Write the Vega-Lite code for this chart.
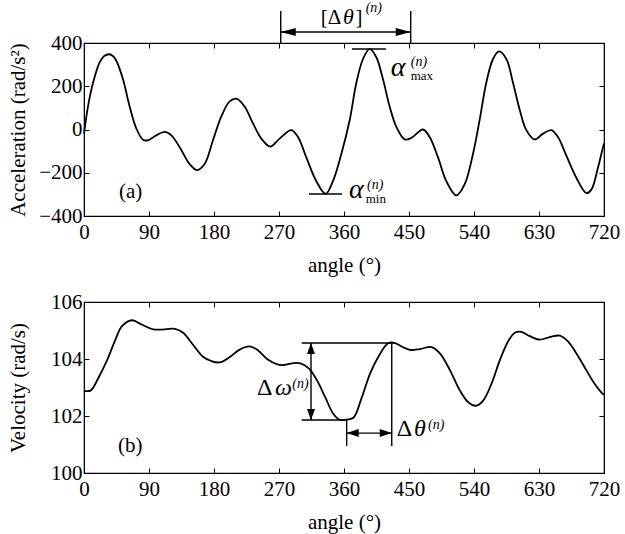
{
  "$schema": "https://vega.github.io/schema/vega-lite/v6.json",
  "padding": {"left": 6, "top": 0, "right": 4, "bottom": 2},
  "spacing": 14,
  "config": {
    "font": "Liberation Serif",
    "view": {"stroke": "black", "strokeWidth": 1.2},
    "axis": {
      "grid": false,
      "labelFont": "Liberation Serif",
      "titleFont": "Liberation Serif",
      "labelFontSize": 21,
      "titleFontSize": 21,
      "titleFontWeight": "normal",
      "labelColor": "black",
      "titleColor": "black",
      "domainColor": "black",
      "tickColor": "black",
      "tickSize": -5,
      "tickWidth": 1,
      "labelFlush": false,
      "labelOverlap": false
    },
    "axisX": {"labelPadding": 10, "titlePadding": 12},
    "axisY": {"labelPadding": 7, "titlePadding": 8, "minExtent": 48, "maxExtent": 48}
  },
  "datasets": {
    "acc": [
      {"angle": 0, "accel": -20}, {"angle": 5.5, "accel": 106}, {"angle": 12.5, "accel": 216},
      {"angle": 21.7, "accel": 310}, {"angle": 28, "accel": 340}, {"angle": 35, "accel": 348},
      {"angle": 40, "accel": 340}, {"angle": 44.8, "accel": 318}, {"angle": 54, "accel": 232},
      {"angle": 63.2, "accel": 106}, {"angle": 72.4, "accel": 5}, {"angle": 81.7, "accel": -47},
      {"angle": 88.6, "accel": -50}, {"angle": 100, "accel": -27}, {"angle": 111.7, "accel": -11},
      {"angle": 121, "accel": -27}, {"angle": 132.5, "accel": -82}, {"angle": 146.3, "accel": -160},
      {"angle": 156.9, "accel": -188}, {"angle": 167, "accel": -160}, {"angle": 178.6, "accel": -50},
      {"angle": 190, "accel": 59}, {"angle": 201.7, "accel": 130}, {"angle": 211.8, "accel": 142},
      {"angle": 222.4, "accel": 106}, {"angle": 234, "accel": 28}, {"angle": 245.5, "accel": -42},
      {"angle": 258, "accel": -79}, {"angle": 270.9, "accel": -42}, {"angle": 287, "accel": -3},
      {"angle": 296.3, "accel": -35}, {"angle": 307.8, "accel": -129}, {"angle": 321.7, "accel": -239},
      {"angle": 334.6, "accel": -298}, {"angle": 344.7, "accel": -239}, {"angle": 356.3, "accel": -113},
      {"angle": 367.9, "accel": 44}, {"angle": 377.1, "accel": 216}, {"angle": 386.3, "accel": 326},
      {"angle": 395.5, "accel": 373}, {"angle": 404.8, "accel": 334}, {"angle": 414, "accel": 232},
      {"angle": 423.2, "accel": 106}, {"angle": 432.5, "accel": 12}, {"angle": 444, "accel": -46},
      {"angle": 453.3, "accel": -39}, {"angle": 469.4, "accel": 0}, {"angle": 478.6, "accel": -35},
      {"angle": 490.2, "accel": -129}, {"angle": 501.7, "accel": -239}, {"angle": 515.5, "accel": -305},
      {"angle": 527, "accel": -254}, {"angle": 538.6, "accel": -113}, {"angle": 547.8, "accel": 44},
      {"angle": 557, "accel": 216}, {"angle": 566.3, "accel": 326}, {"angle": 574.6, "accel": 361},
      {"angle": 584.8, "accel": 326}, {"angle": 594, "accel": 216}, {"angle": 603.3, "accel": 91},
      {"angle": 612.5, "accel": -3}, {"angle": 624, "accel": -46}, {"angle": 635.6, "accel": -19},
      {"angle": 647.1, "accel": -3}, {"angle": 656.3, "accel": -35}, {"angle": 667.9, "accel": -121},
      {"angle": 681.7, "accel": -223}, {"angle": 695.6, "accel": -294}, {"angle": 702.5, "accel": -278},
      {"angle": 711.7, "accel": -176}, {"angle": 718.6, "accel": -82}, {"angle": 720, "accel": -65}
    ],
    "vel": [
      {"angle": 0, "vel": 102.89}, {"angle": 9, "vel": 102.89}, {"angle": 20.6, "vel": 103.37},
      {"angle": 32, "vel": 103.96}, {"angle": 43.5, "vel": 104.68}, {"angle": 52.6, "vel": 105.15},
      {"angle": 66.4, "vel": 105.36}, {"angle": 80, "vel": 105.21}, {"angle": 96, "vel": 105.04},
      {"angle": 112, "vel": 105.04}, {"angle": 125.9, "vel": 105.06}, {"angle": 137.3, "vel": 104.92},
      {"angle": 151, "vel": 104.5}, {"angle": 164.8, "vel": 104.08}, {"angle": 176.2, "vel": 103.93},
      {"angle": 187.7, "vel": 103.88}, {"angle": 201.4, "vel": 104.06}, {"angle": 215, "vel": 104.32},
      {"angle": 228.9, "vel": 104.44}, {"angle": 240.3, "vel": 104.32}, {"angle": 254, "vel": 103.99},
      {"angle": 267.8, "vel": 103.81}, {"angle": 276.9, "vel": 103.79}, {"angle": 288.4, "vel": 103.85},
      {"angle": 299.8, "vel": 103.85}, {"angle": 311.2, "vel": 103.67}, {"angle": 322.7, "vel": 103.25},
      {"angle": 334.1, "vel": 102.65}, {"angle": 345.6, "vel": 102.06}, {"angle": 354.7, "vel": 101.86},
      {"angle": 362, "vel": 101.87}, {"angle": 373, "vel": 101.94}, {"angle": 384.6, "vel": 102.65},
      {"angle": 396.1, "vel": 103.49}, {"angle": 407.6, "vel": 104.08}, {"angle": 421.4, "vel": 104.56},
      {"angle": 430.7, "vel": 104.56}, {"angle": 439.9, "vel": 104.44}, {"angle": 451.4, "vel": 104.32},
      {"angle": 465.2, "vel": 104.35}, {"angle": 481.3, "vel": 104.42}, {"angle": 492.8, "vel": 104.2},
      {"angle": 506.7, "vel": 103.61}, {"angle": 520.5, "vel": 102.89}, {"angle": 532, "vel": 102.48},
      {"angle": 542.6, "vel": 102.36}, {"angle": 552.7, "vel": 102.54}, {"angle": 564.2, "vel": 103.13},
      {"angle": 575.8, "vel": 103.96}, {"angle": 587.3, "vel": 104.62}, {"angle": 596.5, "vel": 104.92},
      {"angle": 605.7, "vel": 104.95}, {"angle": 617.2, "vel": 104.8}, {"angle": 631, "vel": 104.68},
      {"angle": 644.8, "vel": 104.77}, {"angle": 658.6, "vel": 104.82}, {"angle": 670.1, "vel": 104.62},
      {"angle": 681.6, "vel": 104.2}, {"angle": 695.5, "vel": 103.61}, {"angle": 707, "vel": 103.13},
      {"angle": 716.2, "vel": 102.83}, {"angle": 720, "vel": 102.74}
    ],
    "accSeg": [
      {"a": 272.4, "a2": 272.4, "v": 548, "v2": 400},
      {"a": 452.4, "a2": 452.4, "v": 548, "v2": 400},
      {"a": 272.4, "a2": 452.4, "v": 451, "v2": 451},
      {"a": 371, "a2": 418, "v": 372, "v2": 372},
      {"a": 311.5, "a2": 357.2, "v": -298, "v2": -298}
    ],
    "velSeg": [
      {"a": 301.4, "a2": 426.1, "v": 104.56, "v2": 104.56},
      {"a": 301.4, "a2": 363.7, "v": 101.86, "v2": 101.86},
      {"a": 314.3, "a2": 314.3, "v": 101.86, "v2": 104.56},
      {"a": 363.7, "a2": 363.7, "v": 101.86, "v2": 100.95},
      {"a": 426.1, "a2": 426.1, "v": 104.56, "v2": 100.95},
      {"a": 363.7, "a2": 426.1, "v": 101.4, "v2": 101.4}
    ],
    "accHead": [
      {"a": 272.4, "v": 451, "dir": "L"},
      {"a": 452.4, "v": 451, "dir": "R"}
    ],
    "velHead": [
      {"a": 314.3, "v": 104.56, "dir": "U"},
      {"a": 314.3, "v": 101.86, "dir": "D"},
      {"a": 363.7, "v": 101.4, "dir": "l"},
      {"a": 426.1, "v": 101.4, "dir": "r"}
    ],
    "accText": [
      {"a": 327.7, "v": 488, "t": "[Δ", "k": "n"},
      {"a": 358.6, "v": 488, "t": "θ", "k": "ni"},
      {"a": 376, "v": 488, "t": "]", "k": "n"},
      {"a": 390, "v": 543, "t": "(n)", "k": "s"},
      {"a": 424.7, "v": 247, "t": "α", "k": "a"},
      {"a": 452.4, "v": 294, "t": "(n)", "k": "s"},
      {"a": 452.4, "v": 229, "t": "max", "k": "t"},
      {"a": 366.9, "v": -317, "t": "α", "k": "a"},
      {"a": 391.9, "v": -275, "t": "(n)", "k": "s"},
      {"a": 390, "v": -340, "t": "min", "k": "t"},
      {"a": 48.5, "v": -317, "t": "(a)", "k": "n"}
    ],
    "velText": [
      {"a": 239.5, "v": 102.72, "t": "Δ", "k": "b"},
      {"a": 264.5, "v": 102.72, "t": "ω", "k": "bi"},
      {"a": 288.5, "v": 102.98, "t": "(n)", "k": "s"},
      {"a": 433, "v": 101.29, "t": "Δ", "k": "b"},
      {"a": 457, "v": 101.29, "t": "θ", "k": "bi"},
      {"a": 476.3, "v": 101.56, "t": "(n)", "k": "s"},
      {"a": 47, "v": 100.74, "t": "(b)", "k": "n"}
    ]
  },
  "vconcat": [
    {
      "width": 520,
      "height": 173,
      "layer": [
        {
          "data": {"name": "acc"},
          "mark": {"type": "line", "interpolate": "catmull-rom", "color": "black", "strokeWidth": 1.8},
          "encoding": {
            "x": {"field": "angle", "type": "quantitative", "scale": {"domain": [0, 720], "nice": false},
                  "axis": {"values": [0, 90, 180, 270, 360, 450, 540, 630, 720], "title": "angle (°)"}},
            "y": {"field": "accel", "type": "quantitative", "scale": {"domain": [-400, 400], "nice": false, "zero": false},
                  "axis": {"values": [-400, -200, 0, 200, 400], "title": "Acceleration (rad/s²)"}}
          }
        },
        {
          "data": {"name": "acc"},
          "mark": {"type": "line", "opacity": 0},
          "encoding": {
            "x": {"field": "angle", "type": "quantitative", "scale": {"domain": [0, 720], "nice": false},
                  "axis": {"orient": "top", "labels": false, "title": null, "values": [0, 90, 180, 270, 360, 450, 540, 630, 720]}},
            "y": {"field": "accel", "type": "quantitative", "scale": {"domain": [-400, 400], "nice": false, "zero": false},
                  "axis": {"orient": "right", "labels": false, "title": null, "values": [-400, -200, 0, 200, 400], "minExtent": 0, "maxExtent": 0}}
          }
        },
        {
          "data": {"name": "accSeg"},
          "mark": {"type": "rule", "color": "black", "strokeWidth": 1.4},
          "encoding": {
            "x": {"field": "a", "type": "quantitative", "axis": null, "scale": {"domain": [0, 720], "nice": false}},
            "x2": {"field": "a2"},
            "y": {"field": "v", "type": "quantitative", "axis": null, "scale": {"domain": [-400, 400], "nice": false, "zero": false}},
            "y2": {"field": "v2"}
          }
        },
        {
          "data": {"name": "accHead"},
          "mark": {"type": "point", "filled": true, "color": "black", "opacity": 1, "size": 100, "strokeWidth": 0},
          "encoding": {
            "x": {"field": "a", "type": "quantitative", "axis": null, "scale": {"domain": [0, 720], "nice": false}},
            "y": {"field": "v", "type": "quantitative", "axis": null, "scale": {"domain": [-400, 400], "nice": false, "zero": false}},
            "shape": {"field": "dir", "type": "nominal", "legend": null,
                      "scale": {"domain": ["L", "R", "U", "D", "l", "r"],
                                "range": ["M0,0L3,-0.8L3,0.8Z", "M0,0L-3,-0.8L-3,0.8Z", "M0,0L-0.8,2.2L0.8,2.2Z", "M0,0L-0.8,-2.2L0.8,-2.2Z", "M0,0L2.4,-0.8L2.4,0.8Z", "M0,0L-2.4,-0.8L-2.4,0.8Z"]}}
          }
        },
        {
          "data": {"name": "accText"},
          "encoding": {
            "x": {"field": "a", "type": "quantitative", "axis": null, "scale": {"domain": [0, 720], "nice": false}},
            "y": {"field": "v", "type": "quantitative", "axis": null, "scale": {"domain": [-400, 400], "nice": false, "zero": false}},
            "text": {"field": "t"}
          },
          "layer": [
            {"transform": [{"filter": "datum.k == 'n'"}],
             "mark": {"type": "text", "align": "left", "baseline": "alphabetic", "font": "Liberation Serif", "fontSize": 21, "color": "black"}},
            {"transform": [{"filter": "datum.k == 'ni'"}],
             "mark": {"type": "text", "align": "left", "baseline": "alphabetic", "font": "Liberation Serif", "fontSize": 22, "fontStyle": "italic", "color": "black"}},
            {"transform": [{"filter": "datum.k == 'a'"}],
             "mark": {"type": "text", "align": "left", "baseline": "alphabetic", "font": "Liberation Serif", "fontSize": 28, "fontStyle": "italic", "color": "black"}},
            {"transform": [{"filter": "datum.k == 's'"}],
             "mark": {"type": "text", "align": "left", "baseline": "alphabetic", "font": "Liberation Serif", "fontSize": 14, "fontStyle": "italic", "color": "black"}},
            {"transform": [{"filter": "datum.k == 't'"}],
             "mark": {"type": "text", "align": "left", "baseline": "alphabetic", "font": "Liberation Serif", "fontSize": 13, "color": "black"}}
          ]
        }
      ],
      "resolve": {"axis": {"x": "independent", "y": "independent"}}
    },
    {
      "width": 520,
      "height": 171,
      "layer": [
        {
          "data": {"name": "vel"},
          "mark": {"type": "line", "interpolate": "catmull-rom", "color": "black", "strokeWidth": 1.8},
          "encoding": {
            "x": {"field": "angle", "type": "quantitative", "scale": {"domain": [0, 720], "nice": false},
                  "axis": {"values": [0, 90, 180, 270, 360, 450, 540, 630, 720], "title": "angle (°)"}},
            "y": {"field": "vel", "type": "quantitative", "scale": {"domain": [100, 106], "nice": false, "zero": false},
                  "axis": {"values": [100, 102, 104, 106], "title": "Velocity (rad/s)"}}
          }
        },
        {
          "data": {"name": "vel"},
          "mark": {"type": "line", "opacity": 0},
          "encoding": {
            "x": {"field": "angle", "type": "quantitative", "scale": {"domain": [0, 720], "nice": false},
                  "axis": {"orient": "top", "labels": false, "title": null, "values": [0, 90, 180, 270, 360, 450, 540, 630, 720]}},
            "y": {"field": "vel", "type": "quantitative", "scale": {"domain": [100, 106], "nice": false, "zero": false},
                  "axis": {"orient": "right", "labels": false, "title": null, "values": [100, 102, 104, 106], "minExtent": 0, "maxExtent": 0}}
          }
        },
        {
          "data": {"name": "velSeg"},
          "mark": {"type": "rule", "color": "black", "strokeWidth": 1.4},
          "encoding": {
            "x": {"field": "a", "type": "quantitative", "axis": null, "scale": {"domain": [0, 720], "nice": false}},
            "x2": {"field": "a2"},
            "y": {"field": "v", "type": "quantitative", "axis": null, "scale": {"domain": [100, 106], "nice": false, "zero": false}},
            "y2": {"field": "v2"}
          }
        },
        {
          "data": {"name": "velHead"},
          "mark": {"type": "point", "filled": true, "color": "black", "opacity": 1, "size": 100, "strokeWidth": 0},
          "encoding": {
            "x": {"field": "a", "type": "quantitative", "axis": null, "scale": {"domain": [0, 720], "nice": false}},
            "y": {"field": "v", "type": "quantitative", "axis": null, "scale": {"domain": [100, 106], "nice": false, "zero": false}},
            "shape": {"field": "dir", "type": "nominal", "legend": null,
                      "scale": {"domain": ["L", "R", "U", "D", "l", "r"],
                                "range": ["M0,0L3,-0.8L3,0.8Z", "M0,0L-3,-0.8L-3,0.8Z", "M0,0L-0.8,2.2L0.8,2.2Z", "M0,0L-0.8,-2.2L0.8,-2.2Z", "M0,0L2.4,-0.8L2.4,0.8Z", "M0,0L-2.4,-0.8L-2.4,0.8Z"]}}
          }
        },
        {
          "data": {"name": "velText"},
          "encoding": {
            "x": {"field": "a", "type": "quantitative", "axis": null, "scale": {"domain": [0, 720], "nice": false}},
            "y": {"field": "v", "type": "quantitative", "axis": null, "scale": {"domain": [100, 106], "nice": false, "zero": false}},
            "text": {"field": "t"}
          },
          "layer": [
            {"transform": [{"filter": "datum.k == 'n'"}],
             "mark": {"type": "text", "align": "left", "baseline": "alphabetic", "font": "Liberation Serif", "fontSize": 21, "color": "black"}},
            {"transform": [{"filter": "datum.k == 'b'"}],
             "mark": {"type": "text", "align": "left", "baseline": "alphabetic", "font": "Liberation Serif", "fontSize": 24, "color": "black"}},
            {"transform": [{"filter": "datum.k == 'bi'"}],
             "mark": {"type": "text", "align": "left", "baseline": "alphabetic", "font": "Liberation Serif", "fontSize": 24, "fontStyle": "italic", "color": "black"}},
            {"transform": [{"filter": "datum.k == 's'"}],
             "mark": {"type": "text", "align": "left", "baseline": "alphabetic", "font": "Liberation Serif", "fontSize": 14, "fontStyle": "italic", "color": "black"}}
          ]
        }
      ],
      "resolve": {"axis": {"x": "independent", "y": "independent"}}
    }
  ]
}
